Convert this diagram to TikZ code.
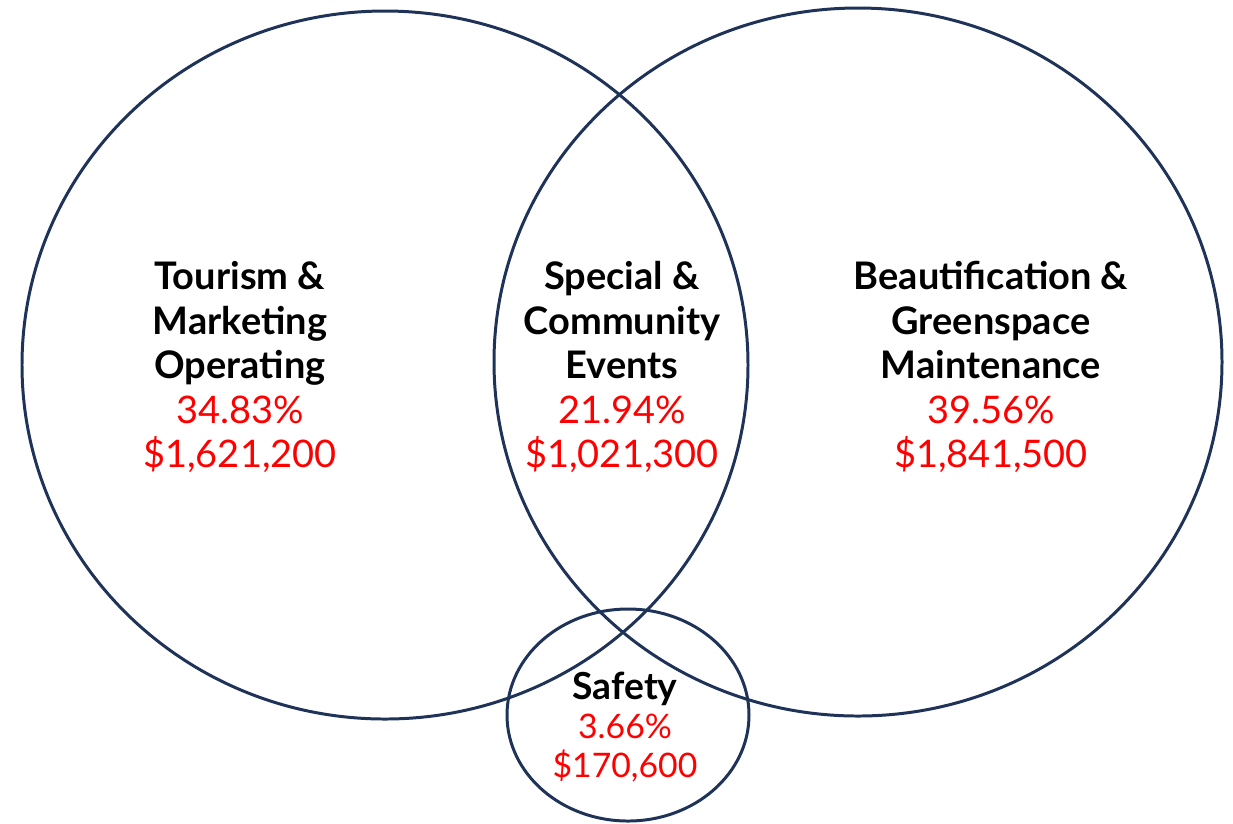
\documentclass[tikz,border=0pt]{standalone}
\usepackage{fontspec}
\setmainfont{Lato}
\usetikzlibrary{positioning}
\definecolor{ringblue}{RGB}{31,50,88}
\definecolor{sumred}{RGB}{255,0,0}
\newcommand{\amt}[1]{\textcolor{sumred}{\mdseries #1}}

\begin{document}
\begin{tikzpicture}[x=0.01cm, y=-0.01cm,
  ring/.style={draw=ringblue, line width=0.85pt},
  fund/.style={align=center, font=\fontsize{10.8}{12.66}\selectfont\bfseries},
  smallfund/.style={align=center, font=\fontsize{9.6}{11.2}\selectfont\bfseries}]
  \useasboundingbox (0,0) rectangle (1233,823);

  % the three budget rings
  \draw[ring] (385,365) ellipse [x radius=363, y radius=354];
  \draw[ring] (858,362) ellipse [x radius=364, y radius=354];
  \draw[ring] (628,715) ellipse [x radius=121, y radius=106];

  % labels
  \node[fund] (tourism) at (240,367)
    {Tourism \&\\Marketing\\Operating\\\amt{34.83\%}\\\amt{\$1,621,200}};
  \node[fund] (events) at (622,367)
    {Special \&\\Community\\Events\\\amt{21.94\%}\\\amt{\$1,021,300}};
  \node[fund] (green) at (991,367)
    {Beautification \&\\Greenspace\\Maintenance\\\amt{39.56\%}\\\amt{\$1,841,500}};
  \node[smallfund] (safety) at (625,727)
    {{\fontsize{10.6}{11.2}\selectfont Safety}\\\amt{3.66\%}\\\amt{\$170,600}};
\end{tikzpicture}
\end{document}
